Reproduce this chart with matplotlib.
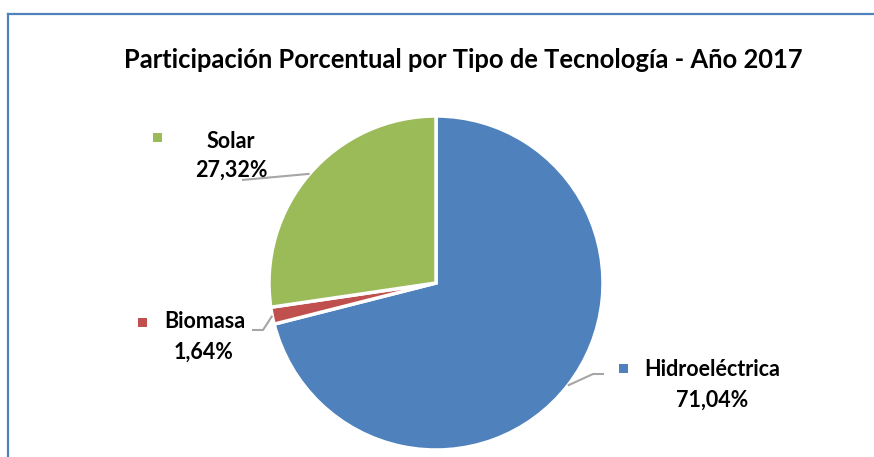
import numpy as np
import matplotlib
matplotlib.use("Agg")
import matplotlib.pyplot as plt

# ---- data ----
categories = ["Hidroeléctrica", "Biomasa", "Solar"]
values = [71.04, 1.64, 27.32]
colors = ["#4F81BD", "#C0504D", "#9BBB59"]
title = "Participación Porcentual por Tipo de Tecnología - Año 2017"

W, H = 874, 457
fig = plt.figure(figsize=(W / 100, H / 100), dpi=100)
ax = fig.add_axes([0, 0, 1, 1])

def Y(y):
    return H - y

cx, cy, R = 436, 283, 167
wedges, _ = ax.pie(values, colors=colors, startangle=90, counterclock=False,
                   center=(cx, Y(cy)), radius=R,
                   wedgeprops=dict(edgecolor="white", linewidth=2.5))
ax.set_xlim(0, W)
ax.set_ylim(0, H)
ax.set_aspect("equal")
ax.axis("off")

# border (partially cropped chart frame)
ax.plot([8, 8], [Y(14), Y(H + 5)], color="#4F81BD", lw=1.6, clip_on=False)
ax.plot([8, W + 5], [Y(14), Y(14)], color="#4F81BD", lw=1.6, clip_on=False)

fam = ["Lato", "DejaVu Sans"]
ax.text(463, Y(60), title, ha="center", va="center", fontsize=18.4,
        fontweight="bold", family=fam, color="black")

# label layout: (square center, name center, value center, leader elbow points)
layout = {
    "Solar": dict(sq=(157, 137), name=(231, 141), val=(231, 170),
                  leader=[(242, 180)]),
    "Biomasa": dict(sq=(142, 322), name=(205, 322), val=(204, 352),
                    leader=[(263, 330), (252, 330)]),
    "Hidroeléctrica": dict(sq=(623, 368), name=(712, 369), val=(712, 400),
                           leader=[(593, 374), (604, 374)]),
}

for w, cat, v, col in zip(wedges, categories, values, colors):
    L = layout[cat]
    mid = np.deg2rad((w.theta1 + w.theta2) / 2)
    ex = cx + R * np.cos(mid)
    ey = Y(cy) + R * np.sin(mid)
    xs = [ex] + [p[0] for p in L["leader"]]
    ys = [ey] + [Y(p[1]) for p in L["leader"]]
    ax.plot(xs, ys, color="#A6A6A6", lw=1.5, solid_capstyle="butt")
    sx, sy = L["sq"]
    ax.add_patch(plt.Rectangle((sx - 4.5, Y(sy) - 4.5), 9, 9, color=col, lw=0))
    ax.text(L["name"][0], Y(L["name"][1]), cat, ha="center", va="center",
            fontsize=15.5, fontweight="bold", family=fam)
    ax.text(L["val"][0], Y(L["val"][1]), f"{v:.2f}%".replace(".", ","),
            ha="center", va="center", fontsize=15.5, fontweight="bold", family=fam)

fig.savefig("out.png", dpi=100)
